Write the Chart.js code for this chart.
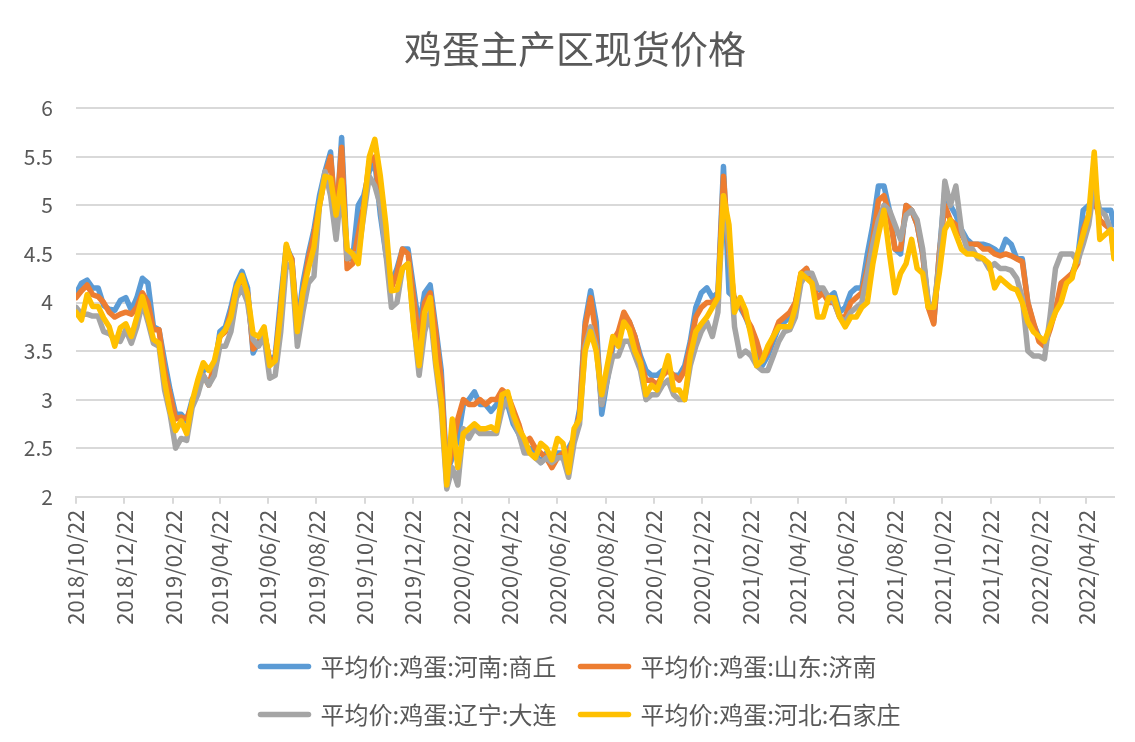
<!DOCTYPE html>
<html><head><meta charset="utf-8">
<script src="https://cdn.jsdelivr.net/npm/chart.js@4.4.1/dist/chart.umd.min.js"></script>
<style>html,body{margin:0;padding:0;background:#fff;}#wrap{width:1135px;height:742px;}</style>
</head><body><div id="wrap"><canvas id="c" width="1135" height="742"></canvas></div>
<script>
const chartTitle = '鸡蛋主产区现货价格';
const seriesNames = ['平均价:鸡蛋:河南:商丘', '平均价:鸡蛋:山东:济南', '平均价:鸡蛋:辽宁:大连', '平均价:鸡蛋:河北:石家庄'];
const seriesColors = ['#5B9BD5', '#ED7D31', '#A5A5A5', '#FFC000'];

const dates = [
'2018-10-22','2018-10-29','2018-11-05','2018-11-12','2018-11-19','2018-11-26','2018-12-03','2018-12-10','2018-12-17','2018-12-24',
'2018-12-31','2019-01-07','2019-01-14','2019-01-21','2019-01-28','2019-02-04','2019-02-11','2019-02-18','2019-02-25','2019-03-04',
'2019-03-11','2019-03-18','2019-03-25','2019-04-01','2019-04-08','2019-04-15','2019-04-22','2019-04-29','2019-05-06','2019-05-13',
'2019-05-20','2019-05-27','2019-06-03','2019-06-10','2019-06-17','2019-06-24','2019-07-01','2019-07-08','2019-07-15','2019-07-22',
'2019-07-29','2019-08-05','2019-08-12','2019-08-19','2019-08-26','2019-09-02','2019-09-09','2019-09-16','2019-09-23','2019-09-30',
'2019-10-07','2019-10-14','2019-10-21','2019-10-28','2019-11-04','2019-11-11','2019-11-18','2019-11-25','2019-12-02','2019-12-09',
'2019-12-16','2019-12-23','2019-12-30','2020-01-06','2020-01-13','2020-01-20','2020-01-27','2020-02-03','2020-02-10','2020-02-17',
'2020-02-24','2020-03-02','2020-03-09','2020-03-16','2020-03-23','2020-03-30','2020-04-06','2020-04-13','2020-04-20','2020-04-27',
'2020-05-04','2020-05-11','2020-05-18','2020-05-25','2020-06-01','2020-06-08','2020-06-15','2020-06-22','2020-06-29','2020-07-06',
'2020-07-13','2020-07-20','2020-07-27','2020-08-03','2020-08-10','2020-08-17','2020-08-24','2020-08-31','2020-09-07','2020-09-14',
'2020-09-21','2020-09-28','2020-10-05','2020-10-12','2020-10-19','2020-10-26','2020-11-02','2020-11-09','2020-11-16','2020-11-23',
'2020-11-30','2020-12-07','2020-12-14','2020-12-21','2020-12-28','2021-01-04','2021-01-11','2021-01-18','2021-01-25','2021-02-01',
'2021-02-08','2021-02-15','2021-02-22','2021-03-01','2021-03-08','2021-03-15','2021-03-22','2021-03-29','2021-04-05','2021-04-12',
'2021-04-19','2021-04-26','2021-05-03','2021-05-10','2021-05-17','2021-05-24','2021-05-31','2021-06-07','2021-06-14','2021-06-21',
'2021-06-28','2021-07-05','2021-07-12','2021-07-19','2021-07-26','2021-08-02','2021-08-09','2021-08-16','2021-08-23','2021-08-30',
'2021-09-06','2021-09-13','2021-09-20','2021-09-27','2021-10-04','2021-10-11','2021-10-18','2021-10-25','2021-11-01','2021-11-08',
'2021-11-15','2021-11-22','2021-11-29','2021-12-06','2021-12-13','2021-12-20','2021-12-27','2022-01-03','2022-01-10','2022-01-17',
'2022-01-24','2022-01-31','2022-02-07','2022-02-14','2022-02-21','2022-02-28','2022-03-07','2022-03-14','2022-03-21','2022-03-28',
'2022-04-04','2022-04-11','2022-04-18','2022-04-25','2022-05-02','2022-05-09','2022-05-16','2022-05-23','2022-05-27'
];

const henanShangqiu = [
4.09,4.2,4.23,4.15,4.15,3.97,3.93,3.92,4.02,4.05,
3.92,4.05,4.25,4.2,3.75,3.72,3.4,3.1,2.85,2.85,
2.78,3.0,3.1,3.3,3.32,3.3,3.7,3.75,3.95,4.2,
4.32,4.15,3.48,3.6,3.68,3.4,3.45,4.05,4.58,4.45,
3.75,4.2,4.5,4.75,5.1,5.35,5.55,4.75,5.7,4.45,
4.45,5.0,5.1,5.35,5.45,4.9,4.5,4.2,4.35,4.55,
4.55,4.15,3.75,4.1,4.18,3.75,3.3,2.25,2.4,2.6,
2.95,3.0,3.08,2.95,2.95,2.88,2.95,3.05,2.95,2.75,
2.65,2.5,2.5,2.45,2.35,2.45,2.4,2.45,2.45,2.5,
2.6,2.9,3.8,4.12,3.8,2.85,3.2,3.55,3.65,3.85,
3.8,3.65,3.45,3.3,3.25,3.25,3.3,3.3,3.25,3.25,
3.35,3.6,3.95,4.1,4.15,4.05,4.1,5.4,4.1,4.05,
3.95,3.85,3.7,3.55,3.35,3.45,3.6,3.75,3.8,3.85,
4.0,4.25,4.35,4.2,4.15,4.1,4.05,4.1,3.9,3.95,
4.1,4.15,4.15,4.5,4.8,5.2,5.2,4.95,4.55,4.5,
5.0,4.95,4.8,4.5,4.0,3.8,4.5,5.15,5.0,4.9,
4.75,4.65,4.6,4.6,4.6,4.58,4.55,4.5,4.65,4.6,
4.45,4.45,4.0,3.78,3.65,3.55,3.75,3.95,4.1,4.2,
4.3,4.45,4.95,5.0,5.0,4.95,4.95,4.95,4.8
];

const shandongJinan = [
4.05,4.12,4.18,4.08,4.06,4.0,3.9,3.85,3.88,3.9,
3.88,3.95,4.1,4.0,3.72,3.72,3.3,3.05,2.8,2.82,
2.8,2.95,3.1,3.25,3.15,3.35,3.65,3.7,3.9,4.15,
4.25,4.1,3.52,3.58,3.7,3.4,3.42,3.95,4.55,4.45,
3.7,4.1,4.45,4.7,5.0,5.3,5.5,4.85,5.6,4.35,
4.4,4.7,5.0,5.45,5.5,5.0,4.6,4.15,4.3,4.55,
4.5,4.05,3.6,4.0,4.1,3.7,3.2,2.2,2.5,2.8,
3.0,2.95,2.95,3.0,2.95,3.0,3.0,3.1,3.05,2.9,
2.75,2.55,2.6,2.5,2.45,2.4,2.3,2.4,2.45,2.45,
2.6,2.85,3.75,4.05,3.65,2.95,3.3,3.6,3.7,3.9,
3.8,3.65,3.4,3.2,3.2,3.15,3.25,3.3,3.25,3.2,
3.3,3.55,3.85,3.95,4.0,4.0,4.05,5.3,4.5,4.0,
4.0,3.85,3.75,3.6,3.4,3.5,3.65,3.8,3.85,3.9,
4.0,4.3,4.35,4.2,4.05,4.1,4.0,4.0,3.85,3.85,
4.0,4.05,4.1,4.35,4.65,5.05,5.1,4.9,4.55,4.55,
5.0,4.95,4.8,4.5,3.95,3.78,4.5,5.0,4.85,4.8,
4.7,4.6,4.6,4.6,4.55,4.55,4.5,4.48,4.5,4.48,
4.45,4.42,4.0,3.8,3.6,3.55,3.72,3.92,4.2,4.25,
4.3,4.4,4.75,4.9,5.1,4.85,4.8,4.75,4.6
];

const liaoningDalian = [
3.95,3.88,3.88,3.86,3.86,3.7,3.68,3.62,3.6,3.72,
3.58,3.75,4.0,3.8,3.58,3.55,3.1,2.85,2.5,2.6,
2.58,2.92,3.05,3.25,3.15,3.25,3.55,3.55,3.7,4.05,
4.15,4.0,3.62,3.55,3.65,3.22,3.25,3.7,4.4,4.35,
3.55,3.9,4.2,4.27,5.0,5.35,5.1,4.65,5.2,4.45,
4.5,4.5,4.9,5.3,5.2,5.0,4.5,3.95,4.0,4.35,
4.4,3.8,3.25,3.7,3.9,3.35,2.9,2.08,2.3,2.12,
2.7,2.6,2.7,2.65,2.65,2.65,2.65,2.9,3.0,2.8,
2.65,2.45,2.45,2.4,2.35,2.4,2.35,2.4,2.4,2.2,
2.55,2.75,3.55,3.75,3.55,2.95,3.2,3.45,3.45,3.6,
3.6,3.45,3.3,3.0,3.05,3.05,3.15,3.2,3.05,3.0,
3.0,3.35,3.55,3.7,3.8,3.65,3.9,5.1,4.6,3.75,
3.45,3.5,3.45,3.35,3.3,3.3,3.45,3.6,3.7,3.72,
3.85,4.2,4.3,4.3,4.15,4.15,4.05,4.0,3.85,3.8,
3.9,3.95,4.0,4.3,4.6,4.85,5.0,4.95,4.8,4.65,
4.9,4.95,4.85,4.55,4.0,3.95,4.4,5.25,5.0,5.2,
4.75,4.55,4.55,4.45,4.45,4.35,4.4,4.35,4.35,4.33,
4.25,4.05,3.5,3.45,3.45,3.42,3.85,4.35,4.5,4.5,
4.5,4.42,4.6,4.8,5.2,4.95,4.9,4.75,4.5
];

const hebeiShijiazhuang = [
3.9,3.82,4.08,3.96,3.96,3.84,3.75,3.55,3.74,3.78,
3.65,3.85,4.06,3.85,3.62,3.58,3.19,2.88,2.68,2.78,
2.65,2.98,3.2,3.38,3.3,3.4,3.65,3.72,3.85,4.15,
4.28,4.08,3.68,3.65,3.75,3.35,3.4,3.9,4.6,4.4,
3.7,4.1,4.35,4.57,5.0,5.3,5.28,4.9,5.26,4.55,
4.5,4.4,4.95,5.5,5.68,5.3,4.8,4.12,4.13,4.35,
4.4,3.78,3.35,3.9,4.05,3.4,3.0,2.12,2.8,2.3,
2.65,2.7,2.75,2.7,2.7,2.72,2.68,3.05,3.08,2.85,
2.7,2.6,2.45,2.4,2.55,2.5,2.38,2.6,2.55,2.25,
2.7,2.8,3.5,3.7,3.5,3.05,3.35,3.65,3.55,3.8,
3.72,3.5,3.38,3.05,3.15,3.1,3.25,3.45,3.1,3.1,
3.0,3.45,3.7,3.78,3.85,3.95,4.05,5.1,4.8,3.9,
4.05,3.92,3.65,3.35,3.4,3.55,3.65,3.75,3.75,3.75,
3.95,4.3,4.25,4.2,3.85,3.85,4.05,4.05,3.85,3.75,
3.85,3.85,3.95,4.0,4.4,4.7,4.95,4.5,4.1,4.3,
4.4,4.65,4.35,4.3,3.95,3.95,4.3,4.75,4.85,4.7,
4.55,4.5,4.5,4.48,4.45,4.4,4.15,4.25,4.2,4.15,
4.13,4.0,3.8,3.7,3.65,3.6,3.75,3.9,4.0,4.2,
4.25,4.5,4.7,4.9,5.55,4.65,4.7,4.75,4.45
];

const tickLabels = ['2018/10/22','2018/12/22','2019/02/22','2019/04/22','2019/06/22','2019/08/22','2019/10/22','2019/12/22',
'2020/02/22','2020/04/22','2020/06/22','2020/08/22','2020/10/22','2020/12/22','2021/02/22','2021/04/22','2021/06/22',
'2021/08/22','2021/10/22','2021/12/22','2022/02/22','2022/04/22'];

const yMin = 2, yMax = 6, yStep = 0.5;

const DAY = 86400000;
const t0 = Date.parse(dates[0] + 'T00:00:00Z');
const toDay = s => (Date.parse(s.replace(/\//g, '-') + 'T00:00:00Z') - t0) / DAY;

const allSeries = [henanShangqiu, shandongJinan, liaoningDalian, hebeiShijiazhuang];
const FONT = '"Noto Sans CJK SC", "Noto Sans", sans-serif';
const TEXT = '#595959';
const GRID = '#D9D9D9';

// title centred like the original; legend as a left-aligned 2x2 grid
const boxPlacement = {
  id: 'boxPlacement',
  afterLayout(chart) {
    const lg = chart.legend;
    if (lg) lg.left = 236.5;
    const tb = chart.titleBlock;
    if (tb) { tb.left = 15; tb.right = 1135; }
  }
};

const datasets = allSeries.map((vals, i) => ({
  label: seriesNames[i],
  data: dates.map((d, j) => ({ x: toDay(d), y: vals[j] })),
  borderColor: seriesColors[i],
  backgroundColor: seriesColors[i],
  borderWidth: 5.5,
  pointRadius: 0,
  pointBorderWidth: 5.5,
  borderCapStyle: 'round',
  borderJoinStyle: 'round',
  tension: 0,
  order: allSeries.length - 1 - i
}));

new Chart(document.getElementById('c'), {
  type: 'line',
  data: { datasets },
  options: {
    responsive: false,
    animation: false,
    devicePixelRatio: 1,
    events: [],
    layout: { padding: { left: 0, right: 21, top: 0, bottom: 5.5 } },
    plugins: {
      title: {
        display: true, text: chartTitle, color: TEXT,
        font: { family: FONT, size: 38, weight: 'normal', lineHeight: 1.2 },
        padding: { top: 25.5, bottom: 37.2 }
      },
      legend: {
        position: 'bottom',
        align: 'start',
        labels: {
          usePointStyle: true, pointStyle: 'line', pointStyleWidth: 48,
          color: TEXT, font: { family: FONT, size: 24 }, padding: 24,
          sort: (a, b) => a.datasetIndex - b.datasetIndex,
          generateLabels: chart => Chart.defaults.plugins.legend.labels.generateLabels(chart)
            .map(l => Object.assign(l, { lineCap: 'round', lineWidth: 5.5 }))
        }
      },
      tooltip: { enabled: false }
    },
    scales: {
      x: {
        type: 'linear',
        min: 0,
        max: toDay(dates[dates.length - 1]),
        afterBuildTicks: s => { s.ticks = tickLabels.map(t => ({ value: toDay(t) })); },
        afterFit: s => { s.height = 133.8; },
        ticks: {
          autoSkip: false, minRotation: 90, maxRotation: 90, padding: 6, color: TEXT,
          font: { family: FONT, size: 22 },
          callback: (v, i) => tickLabels[i]
        },
        grid: { drawOnChartArea: false, drawTicks: true, tickLength: 7, color: GRID, lineWidth: 2 },
        border: { color: GRID, width: 2 }
      },
      y: {
        min: yMin, max: yMax,
        afterFit: s => { s.width = 76; },
        ticks: { stepSize: yStep, padding: 23, color: TEXT, font: { family: FONT, size: 21 },
          callback: v => String(v) },
        grid: { color: GRID, lineWidth: 2, drawTicks: false },
        border: { display: false }
      }
    }
  },
  plugins: [boxPlacement]
});
</script></body></html>
